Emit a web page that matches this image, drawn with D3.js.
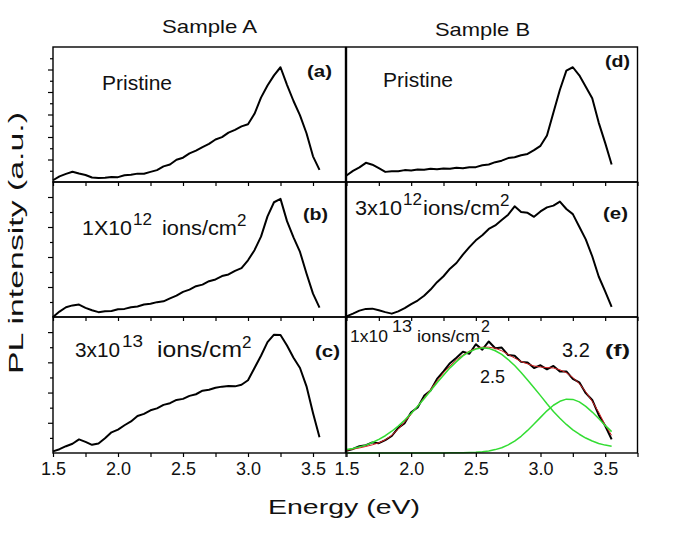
<!DOCTYPE html>
<html>
<head>
<meta charset="utf-8">
<script src="https://cdn.jsdelivr.net/npm/d3@7"></script>
<style>
  body { margin: 0; background: #fff; }
  text { font-family: "Liberation Sans", Arial, sans-serif; fill: #111; }
</style>
</head>
<body>
<svg id="chart" width="685" height="551"></svg>
<script>
// energy grid (eV) shared by every trace
const energy = [
  1.50,1.55,1.60,1.65,1.70,1.75,
  1.80,1.85,1.90,1.95,2.00,2.05,
  2.10,2.15,2.20,2.25,2.30,2.35,
  2.40,2.45,2.50,2.55,2.60,2.65,
  2.70,2.75,2.80,2.85,2.90,2.95,
  3.00,3.05,3.10,3.15,3.20,3.25,
  3.30,3.35,3.40,3.45,3.50,3.55
];

// sample A, normalised PL intensity
const pristineA = [
  0.013,0.042,0.060,0.076,0.063,0.052,
  0.033,0.030,0.031,0.037,0.036,0.050,
  0.053,0.062,0.061,0.075,0.088,0.116,
  0.130,0.165,0.180,0.212,0.232,0.258,
  0.282,0.315,0.332,0.366,0.386,0.412,
  0.428,0.505,0.625,0.715,0.790,0.850,
  0.720,0.600,0.494,0.361,0.190,0.090
];
const dose12A = [
  0.000,0.040,0.072,0.086,0.092,0.068,
  0.050,0.036,0.042,0.045,0.057,0.060,
  0.072,0.078,0.092,0.098,0.110,0.116,
  0.138,0.158,0.186,0.203,0.228,0.240,
  0.265,0.278,0.303,0.315,0.342,0.362,
  0.420,0.495,0.595,0.745,0.850,0.875,
  0.710,0.590,0.482,0.322,0.173,0.070
];
const dose13A = [
  0.012,0.028,0.050,0.068,0.100,0.082,
  0.060,0.070,0.108,0.152,0.172,0.204,
  0.232,0.272,0.288,0.314,0.328,0.354,
  0.366,0.390,0.398,0.420,0.432,0.458,
  0.465,0.480,0.488,0.493,0.490,0.502,
  0.535,0.625,0.715,0.815,0.870,0.868,
  0.790,0.700,0.625,0.490,0.294,0.115
];

// sample B
const pristineB = [
  0.048,0.082,0.108,0.142,0.128,0.102,
  0.075,0.080,0.080,0.088,0.085,0.092,
  0.090,0.098,0.094,0.100,0.098,0.105,
  0.102,0.110,0.110,0.124,0.130,0.147,
  0.158,0.177,0.183,0.198,0.208,0.236,
  0.268,0.345,0.515,0.683,0.825,0.850,
  0.790,0.705,0.620,0.440,0.290,0.130
];
const dose12B = [
  0.005,0.025,0.047,0.060,0.062,0.050,
  0.036,0.025,0.042,0.066,0.096,0.122,
  0.157,0.203,0.258,0.302,0.358,0.400,
  0.462,0.518,0.568,0.606,0.652,0.678,
  0.718,0.758,0.820,0.778,0.772,0.742,
  0.782,0.812,0.825,0.855,0.800,0.762,
  0.668,0.575,0.450,0.300,0.190,0.075
];
const dose13B = [
  0.017,0.030,0.050,0.058,0.078,0.072,
  0.095,0.125,0.185,0.220,0.300,0.335,
  0.420,0.460,0.545,0.600,0.660,0.700,
  0.745,0.730,0.800,0.760,0.820,0.770,
  0.775,0.720,0.715,0.670,0.665,0.625,
  0.645,0.615,0.640,0.600,0.600,0.545,
  0.520,0.440,0.390,0.280,0.200,0.100
];

// gaussian fit of panel (f)
const fitPeak25 = [
  0.025,0.033,0.045,0.058,0.077,0.100,
  0.127,0.160,0.198,0.242,0.290,0.343,
  0.399,0.458,0.516,0.572,0.626,0.672,
  0.714,0.745,0.764,0.773,0.769,0.752,
  0.725,0.687,0.643,0.592,0.537,0.480,
  0.422,0.362,0.305,0.255,0.210,0.170,
  0.138,0.110,0.088,0.070,0.058,0.050
];
const fitPeak32 = [
  0,0,0,0,0,0,
  0,0,0,0,0,0,
  0,0,0,0,0.001,0.001,
  0.001,0.003,0.005,0.009,0.015,0.025,
  0.039,0.060,0.088,0.123,0.166,0.213,
  0.262,0.310,0.351,0.380,0.396,0.394,
  0.376,0.343,0.301,0.253,0.203,0.157
];
const fitTotal = [
  0.020,0.028,0.037,0.048,0.060,0.075,
  0.097,0.130,0.175,0.228,0.285,0.345,
  0.405,0.468,0.530,0.590,0.640,0.685,
  0.720,0.750,0.768,0.778,0.778,0.770,
  0.752,0.725,0.698,0.673,0.655,0.640,
  0.632,0.628,0.625,0.612,0.590,0.555,
  0.510,0.450,0.380,0.300,0.205,0.130
];

const xTicks = [1.5, 1.75, 2.0, 2.25, 2.5, 2.75, 3.0, 3.25, 3.5, 3.75];
const xLabels = [1.5, 2.0, 2.5, 3.0, 3.5];

const svg = d3.select("#chart");
svg.append("rect").attr("width", 685).attr("height", 551).attr("fill", "#fff");

const xScales = [
  d3.scaleLinear().domain([1.5, 3.75]).range([53, 345.5]),
  d3.scaleLinear().domain([1.5, 3.75]).range([346.5, 637.5])
];
const rows = [[47, 182], [182, 317], [317, 453]];
const yScales = rows.map(r => d3.scaleLinear().domain([0, 1]).range([r[1], r[0]]));

const panels = [
  {col: 0, row: 0, traces: [{v: pristineA, c: "#000", w: 2}]},
  {col: 0, row: 1, traces: [{v: dose12A, c: "#000", w: 2}]},
  {col: 0, row: 2, traces: [{v: dose13A, c: "#000", w: 2}]},
  {col: 1, row: 0, traces: [{v: pristineB, c: "#000", w: 2}]},
  {col: 1, row: 1, traces: [{v: dose12B, c: "#000", w: 2}]},
  {col: 1, row: 2, traces: [
    {v: dose13B, c: "#000", w: 2},
    {v: fitTotal, c: "#d42020", w: 1},
    {v: fitPeak25, c: "#33dd33", w: 1.5},
    {v: fitPeak32, c: "#33dd33", w: 1.5}
  ]}
];

panels.forEach(p => {
  const x = xScales[p.col], y = yScales[p.row];
  const g = svg.append("g");

  const line = d3.line()
    .x((d, i) => x(energy[i]))
    .y(d => y(d));

  g.selectAll("path.trace")
    .data(p.traces)
    .enter()
    .append("path")
    .attr("class", "trace")
    .attr("d", d => line(d.v))
    .attr("fill", "none")
    .attr("stroke", d => d.c)
    .attr("stroke-width", d => d.w)
    .attr("stroke-linejoin", "round");

  // bottom ticks point outward, labels only on the lowest row
  const ax = g.append("g")
    .attr("transform", `translate(0,${y(0)})`)
    .call(d3.axisBottom(x)
      .tickValues(xTicks)
      .tickSize(4)
      .tickPadding(5)
      .tickFormat(d => p.row === 2 && xLabels.includes(d) ? d3.format(".1f")(d) : ""));
  ax.select(".domain").remove();
  ax.selectAll("line").attr("stroke", "#000").attr("stroke-width", 1.2);
  ax.selectAll("text")
    .attr("font-family", "Liberation Sans, Arial, sans-serif")
    .attr("font-size", 18)
    .attr("fill", "#111");

  // left ticks only on sample A
  if (p.col === 0) {
    const n = p.row === 0 ? 12 : 9;
    const vals = d3.range(1, n).map(i => i / n);
    [[vals.filter((d, i) => i % 2 === 1), 5], [vals.filter((d, i) => i % 2 === 0), 3]].forEach(([tv, size]) => {
      const ay = g.append("g")
        .attr("transform", `translate(${x.range()[0]},0)`)
        .call(d3.axisLeft(y).tickValues(tv).tickSize(size).tickFormat(""));
      ay.select(".domain").remove();
      ay.selectAll("line").attr("stroke", "#000").attr("stroke-width", 1.2);
    });
  }

  g.append("rect")
    .attr("x", x.range()[0])
    .attr("y", y.range()[1])
    .attr("width", x.range()[1] - x.range()[0])
    .attr("height", y.range()[0] - y.range()[1])
    .attr("fill", "none")
    .attr("stroke", "#000")
    .attr("stroke-width", 1.4);
});

// titles and axis labels
svg.append("text").attr("x", 162).attr("y", 33).attr("font-size", 19)
  .attr("textLength", 95).attr("lengthAdjust", "spacingAndGlyphs").text("Sample A");
svg.append("text").attr("x", 435).attr("y", 36).attr("font-size", 19)
  .attr("textLength", 95).attr("lengthAdjust", "spacingAndGlyphs").text("Sample B");
svg.append("text")
  .attr("transform", "translate(23,243) rotate(-90)")
  .attr("text-anchor", "middle").attr("font-size", 20)
  .attr("textLength", 262).attr("lengthAdjust", "spacingAndGlyphs")
  .text("PL intensity (a.u.)");
svg.append("text").attr("x", 268).attr("y", 514).attr("font-size", 21)
  .attr("textLength", 152).attr("lengthAdjust", "spacingAndGlyphs").text("Energy (eV)");

// panel letters
const letters = [["(a)", 307, 77], ["(b)", 303, 220], ["(c)", 315, 357],
                 ["(d)", 605, 67], ["(e)", 603, 219], ["(f)", 605, 356]];
svg.selectAll("text.letter")
  .data(letters)
  .enter()
  .append("text")
  .attr("class", "letter")
  .attr("x", d => d[1]).attr("y", d => d[2])
  .attr("font-size", 17).attr("font-weight", "bold")
  .attr("textLength", 25).attr("lengthAdjust", "spacingAndGlyphs")
  .text(d => d[0]);

svg.append("text").attr("x", 102).attr("y", 90).attr("font-size", 21).text("Pristine");
svg.append("text").attr("x", 383).attr("y", 87).attr("font-size", 21).text("Pristine");

// fluence labels, each part: [text, left, right, baseline, size]
const fluence = [
  [["1X10", 82, 132, 235, 21], ["12", 133, 152, 225, 17], ["ions/cm", 162, 237, 235, 21], ["2", 237, 245, 226, 17]],
  [["3x10", 75, 120, 357, 21], ["13", 122, 143, 347, 17], ["ions/cm", 157, 242, 357, 22], ["2", 242, 250, 348, 17]],
  [["3x10", 355, 402, 215, 21], ["12", 403, 422, 205, 17], ["ions/cm", 423, 500, 215, 21], ["2", 500, 507, 206, 17]],
  [["1x10", 350, 388, 342, 17], ["13", 392, 412, 332, 16], ["ions/cm", 417, 480, 342, 17], ["2", 481, 490, 332, 16]]
];
fluence.forEach(parts => {
  parts.forEach(([t, x0, x1, py, fs]) => {
    const el = svg.append("text").attr("x", x0).attr("y", py).attr("font-size", fs).text(t);
    if (t.length > 1) el.attr("textLength", x1 - x0).attr("lengthAdjust", "spacingAndGlyphs");
  });
});

svg.append("text").attr("x", 480).attr("y", 383).attr("font-size", 18).text("2.5");
svg.append("text").attr("x", 562).attr("y", 357).attr("font-size", 20).text("3.2");
</script>
</body>
</html>
